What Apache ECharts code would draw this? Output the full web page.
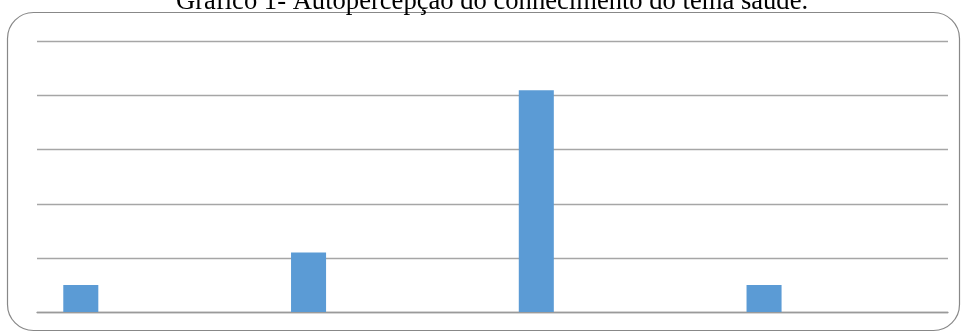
<!DOCTYPE html>
<html>
<head>
<meta charset="utf-8">
<script src="https://cdn.jsdelivr.net/npm/echarts@6/dist/echarts.min.js"></script>
<style>
  html, body { margin: 0; padding: 0; background: #fff; }
  #chart { width: 965px; height: 334px; }
</style>
</head>
<body>
<div id="chart"></div>
<script>
// Self-perception of knowledge about health (counts per response level)
const categories = ['Nenhum', 'Pouco', 'Razoável', 'Muito'];
const respostas = [5, 11, 41, 5];
// Remaining slots of each category cluster carry no values
const vazio = [null, null, null, null];
const yTicks = { min: 0, max: 50, interval: 10 };

const chart = echarts.init(document.getElementById('chart'));

const emptySeries = [1, 2, 3, 4].map(() => ({
  type: 'bar', data: vazio, barGap: '0%', barCategoryGap: '23.08%', silent: true
}));

chart.setOption({
  animation: false,
  title: {
    text: 'Gráfico 1- Autopercepção do conhecimento do tema saúde.',
    left: 171,
    top: -16,
    textStyle: { fontFamily: 'Liberation Serif', fontSize: 26.6, fontWeight: 'normal', color: '#000' }
  },
  graphic: [{
    type: 'rect',
    shape: { x: 7.5, y: 12.5, width: 952, height: 318, r: 26 },
    style: { fill: 'none', stroke: '#888888', lineWidth: 1.2 },
    silent: true,
    z: -1
  }],
  grid: { left: 37, right: 17, top: 41.5, bottom: 22 },
  xAxis: {
    type: 'category',
    data: categories,
    axisLine: { show: true, lineStyle: { color: '#9a9a9a', width: 1.3 } },
    axisTick: { show: false },
    axisLabel: { show: false }
  },
  yAxis: {
    type: 'value',
    min: yTicks.min, max: yTicks.max, interval: yTicks.interval,
    axisLine: { show: false },
    axisTick: { show: false },
    axisLabel: { show: false },
    splitLine: { lineStyle: { color: '#a6a6a6', width: 1.3 } }
  },
  series: [
    {
      type: 'bar',
      data: respostas,
      barGap: '0%',
      barCategoryGap: '23.08%',
      itemStyle: { color: '#5b9bd5' }
    },
    ...emptySeries
  ]
});
</script>
</body>
</html>
